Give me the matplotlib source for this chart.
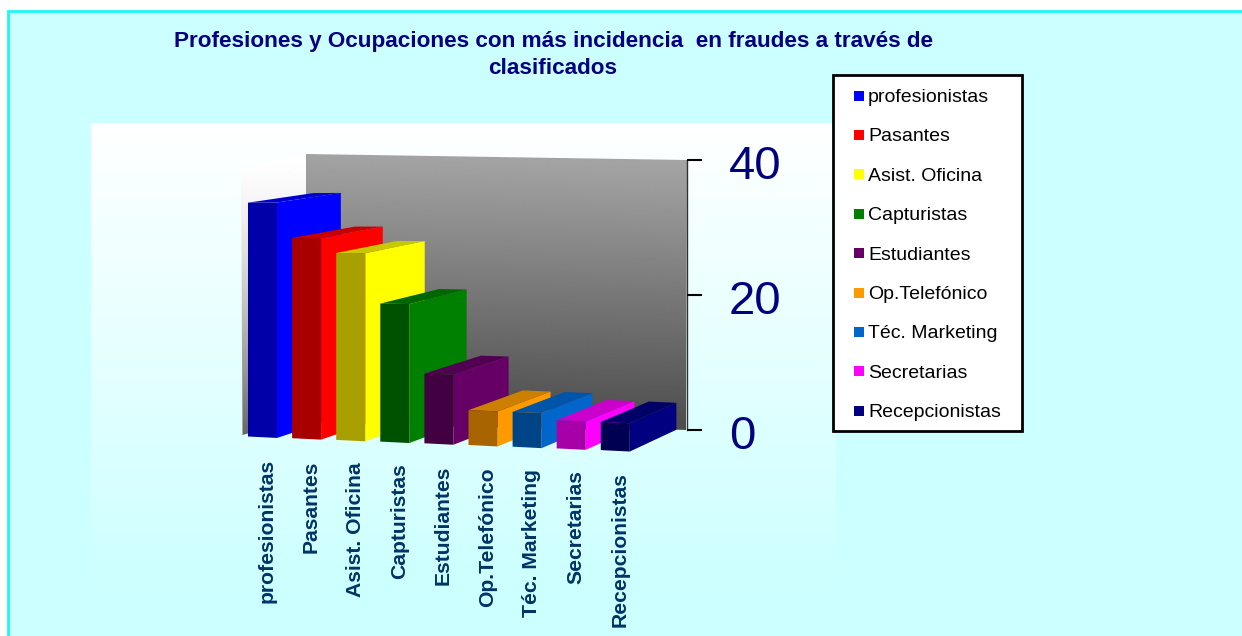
import numpy as np
import matplotlib
matplotlib.use('Agg')
import matplotlib.pyplot as plt
from matplotlib.patches import Polygon, Rectangle

plt.rcParams['font.family'] = ['Liberation Sans', 'DejaVu Sans']

categories = ['profesionistas', 'Pasantes', 'Asist. Oficina', 'Capturistas', 'Estudiantes',
              'Op.Telefónico', 'Téc. Marketing', 'Secretarias', 'Recepcionistas']
values = [34.9, 29.9, 27.9, 20.6, 10.4, 5.2, 5.2, 4.2, 4.2]
side_colors = ['#0000ff', '#ff0000', '#ffff00', '#008000', '#660066',
               '#ff9900', '#0066cc', '#ff00ff', '#000080']
front_colors = ['#0000a8', '#a80000', '#a8a000', '#005200', '#420042',
                '#a86400', '#004488', '#a800a8', '#000052']
top_colors = ['#0000d0', '#c80000', '#c8c800', '#006600', '#520052',
              '#cc7f00', '#0055aa', '#cc00cc', '#000066']
value_ticks = [0, 20, 40]

# pixel geometry of the fake 3d box
VANISH = np.array([1580.0, 7.0])
DEPTH = 0.049
BAR_X0 = 248.0
BAR_STEP = 44.1
BAR_W = 29.0
FRONT_Y0 = 436.5
FRONT_SLOPE = 0.0385
SCALE = 6.7
WALL_SCALE = 6.75
WALL_X = 687.0
WALL_Y0 = 430.0


def front_point(i, frac, v):
    # frac is position across the bar width, v is the value height
    left = BAR_X0 + i * BAR_STEP
    x = left + frac * BAR_W
    tilt = 0.05 - 0.0016 * v
    y = FRONT_Y0 + FRONT_SLOPE * (left - BAR_X0) - SCALE * v + tilt * (x - left)
    return np.array([x, y])


def to_back(p):
    return p + DEPTH * (VANISH - p)


def gradient_patch(ax, poly, top_grey, bottom_grey, tilt=0.0, power=1.0):
    xs = np.array([p[0] for p in poly])
    ys = np.array([p[1] for p in poly])
    x0, x1, y0, y1 = xs.min(), xs.max(), ys.min(), ys.max()
    xx, yy = np.meshgrid(np.linspace(x0, x1, 300), np.linspace(y0, y1, 300))
    t = np.clip((yy - y0 - tilt * (xx - x0)) / (y1 - y0 - tilt * (x1 - x0)), 0, 1) ** power
    img = top_grey + (bottom_grey - top_grey) * t
    im = ax.imshow(img, extent=(x0, x1, y1, y0), cmap='gray', vmin=0, vmax=1,
                   aspect='auto', interpolation='bilinear', zorder=2)
    clip = Polygon(poly, closed=True, transform=ax.transData)
    im.set_clip_path(clip)


fig = plt.figure(figsize=(12.42, 6.36), dpi=100)
ax = fig.add_axes([0, 0, 1, 1])
ax.axis('off')

# outer panel
ax.add_patch(Rectangle((8, 11), 1240, 640, facecolor='#ccffff', edgecolor='#1ff5f5', lw=2, zorder=0))

# white to cyan plot area
grad = np.linspace(0, 1, 256)[:, None, None] * (np.array([0.8, 1.0, 1.0]) - 1.0) + 1.0
ax.imshow(np.clip(grad, 0, 1), extent=(91, 836, 590, 123), aspect='auto', zorder=1)

# walls
left_wall = [(241, 167), (305.5, 154), (305.5, 417), (242.5, 435)]
back_wall = [(305.5, 154), (687, 160), (686, 430), (305.5, 417)]
gradient_patch(ax, left_wall, 1.0, 0.40, power=1.5)
gradient_patch(ax, back_wall, 0.64, 0.30, tilt=0.03)

ax.plot([WALL_X, WALL_X], [WALL_Y0 - WALL_SCALE * value_ticks[-1], WALL_Y0], color='#303030', lw=1.0, zorder=3)
for v in value_ticks:
    y = WALL_Y0 - WALL_SCALE * v
    ax.plot([WALL_X, WALL_X + 15], [y, y], color='black', lw=1.5, zorder=3, solid_capstyle='butt')
    ax.text(729, y + 7, str(v), fontsize=34, color='#000080', ha='left', va='center', zorder=6)

# bars, left to right so the next one covers the previous side face
for i, v in enumerate(values):
    z = 4
    fl_b, fr_b = front_point(i, 0, 0), front_point(i, 1, 0)
    fl_t, fr_t = front_point(i, 0, v), front_point(i, 1, v)
    ax.add_patch(Polygon([fr_b, to_back(fr_b), to_back(fr_t), fr_t], closed=True,
                         facecolor=side_colors[i], edgecolor='none', zorder=z))
    ax.add_patch(Polygon([fl_t, fr_t, to_back(fr_t), to_back(fl_t)], closed=True,
                         facecolor=top_colors[i], edgecolor='none', zorder=z))
    ax.add_patch(Polygon([fl_b, fr_b, fr_t, fl_t], closed=True,
                         facecolor=front_colors[i], edgecolor='none', zorder=z))
    ax.text(fl_b[0] + 19, fl_b[1] + 22, categories[i], rotation=90, fontsize=15.2, fontweight='bold',
            color='#003366', ha='center', va='top', zorder=6)

# title
ax.text(553, 41, 'Profesiones y Ocupaciones con más incidencia  en fraudes a través de', fontsize=16.2,
        fontweight='bold', color='#000080', ha='center', va='center', zorder=6)
ax.text(553, 69, 'clasificados', fontsize=16.2, fontweight='bold', color='#000080',
        ha='center', va='center', zorder=6)

# legend
ax.add_patch(Rectangle((833, 75), 189, 356, facecolor='white', edgecolor='black', lw=2, zorder=7))
for i, name in enumerate(categories):
    y = 95.5 + i * 39.4
    ax.add_patch(Rectangle((854, y - 5), 10, 10, facecolor=side_colors[i], edgecolor='none', zorder=8))
    ax.text(868, y + 2, name, fontsize=14, color='black', ha='left', va='center', zorder=8)

ax.set_xlim(0, 1242)
ax.set_ylim(636, 0)
fig.savefig('out.png', dpi=100)
